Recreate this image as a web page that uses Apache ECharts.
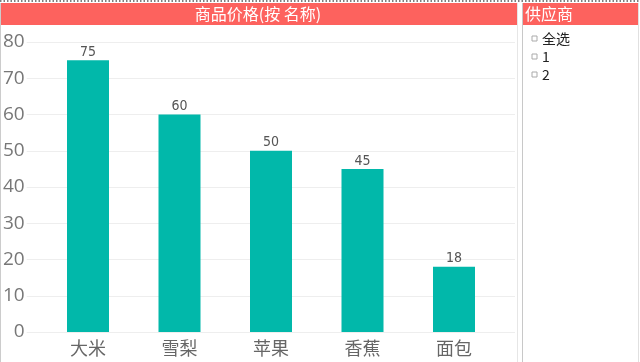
<!DOCTYPE html>
<html><head><meta charset="utf-8">
<script src="https://cdn.jsdelivr.net/npm/echarts@6/dist/echarts.min.js"></script>
<style>html,body{margin:0;padding:0;background:#fff}#c{width:640px;height:362px}</style>
</head><body><div id="c"></div>
<script>
const categories = ['大米','雪梨','苹果','香蕉','面包'];
const prices = [75, 60, 50, 45, 18];
const yTicks = [0,10,20,30,40,50,60,70,80];
const chartTitle = '商品价格(按 名称)';
const slicerTitle = '供应商';
const slicerItems = ['全选','1','2'];

const chart = echarts.init(document.getElementById('c'));
const cjk = '"Noto Sans CJK SC", "Noto Sans", sans-serif';
const graphics = [
  {type:'line', shape:{x1:0,y1:1,x2:640,y2:1}, style:{stroke:'#555', lineWidth:1.5, lineDash:[1.5,2]}},
  {type:'rect', shape:{x:0,y:3,width:517,height:22}, style:{fill:'#FD625E'}},
  {type:'text', x:258, y:14, style:{text:chartTitle, fill:'#fff', font:'16px '+cjk, textAlign:'center', textVerticalAlign:'middle'}},
  {type:'line', shape:{x1:0.5,y1:3,x2:0.5,y2:362}, style:{stroke:'#ccc', lineWidth:1}},
  {type:'line', shape:{x1:517.5,y1:3,x2:517.5,y2:362}, style:{stroke:'#e6e6e6', lineWidth:1}},
  {type:'line', shape:{x1:522.5,y1:3,x2:522.5,y2:362}, style:{stroke:'#c8c8c8', lineWidth:1}},
  {type:'line', shape:{x1:638.5,y1:3,x2:638.5,y2:362}, style:{stroke:'#e0e0e0', lineWidth:1}},
  {type:'rect', shape:{x:523,y:3,width:115,height:22}, style:{fill:'#FD625E'}},
  {type:'text', x:525, y:14, style:{text:slicerTitle, fill:'#fff', font:'16px '+cjk, textAlign:'left', textVerticalAlign:'middle'}}
];
slicerItems.forEach((t,i)=>{
  const y = 39 + i*18;
  graphics.push({type:'rect', shape:{x:532,y:y-3,width:5,height:5}, style:{fill:'#fff', stroke:'#aaa', lineWidth:1}});
  graphics.push({type:'text', x:542, y:y, style:{text:t, fill:'#222', font:'14px '+cjk, textAlign:'left', textVerticalAlign:'middle'}});
});

chart.setOption({
  animation:false,
  grid:[
    {left:25, right:125, top:42, bottom:30},
    {left:42.25, right:140.25, top:42, bottom:30}
  ],
  xAxis:[
    {gridIndex:0, type:'category', data:categories, show:false},
    {gridIndex:1, type:'category', data:categories,
     axisLine:{show:false}, axisTick:{show:false},
     axisLabel:{color:'#666', fontSize:18, fontFamily:cjk, margin:7}}
  ],
  yAxis:[
    {gridIndex:0, type:'value', min:yTicks[0], max:yTicks[yTicks.length-1], interval:10,
     axisLine:{show:false}, axisTick:{show:false},
     axisLabel:{color:'#777', fontSize:19, fontFamily:'"Open Sans", sans-serif', margin:2},
     splitLine:{lineStyle:{color:'#eeeeee', width:1}}},
    {gridIndex:1, type:'value', min:yTicks[0], max:yTicks[yTicks.length-1], interval:10, show:false, splitLine:{show:false}}
  ],
  series:[{
    type:'bar', xAxisIndex:1, yAxisIndex:1, data:prices, barWidth:42,
    itemStyle:{color:'#01B8AA'},
    label:{show:true, position:'top', distance:1, color:'#555', fontSize:14, fontFamily:'"DejaVu Sans Condensed", Roboto, sans-serif'}
  }],
  graphic:graphics
});
</script></body></html>
